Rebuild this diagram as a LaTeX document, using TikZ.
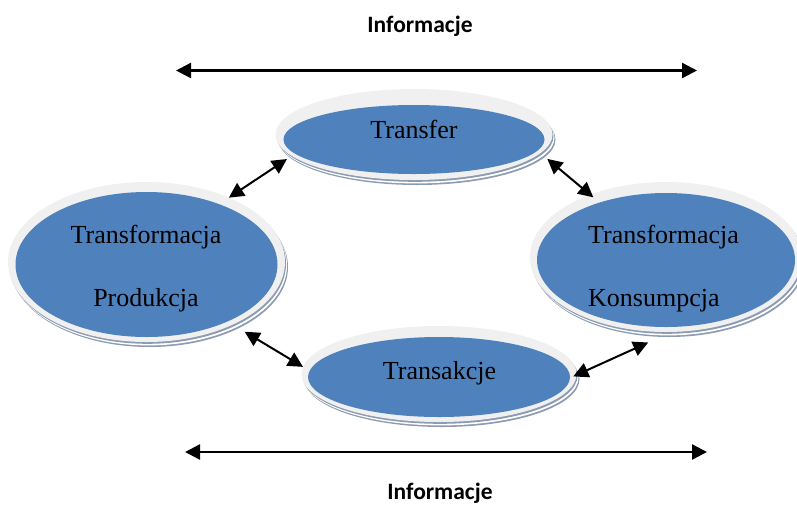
\documentclass[tikz,border=0pt]{standalone}
\usepackage{fontspec}
\setmainfont{Liberation Serif}
\newfontfamily\calfont{Carlito}
\usetikzlibrary{arrows.meta,shapes.geometric}
\definecolor{ellblue}{RGB}{79,129,189}
\definecolor{ringgray}{RGB}{240,240,240}
\definecolor{shadowgray}{RGB}{140,155,178}
\tikzset{
  ellnode/.style n args={5}{ellipse, inner sep=0pt, outer sep=0pt,
    minimum width=#1, minimum height=#2, fill=ringgray,
    preaction={fill=shadowgray, transform canvas={xshift=3pt,yshift=-5pt}},
    preaction={fill=white, transform canvas={xshift=2pt,yshift=-3.4pt}},
    preaction={fill=shadowgray, transform canvas={xshift=1pt,yshift=-1.8pt}},
    path picture={\fill[ellblue] ([yshift=-#5]path picture bounding box.center) ellipse [x radius=#3, y radius=#4];}},
  lbl/.style={font=\fontsize{26}{30}\selectfont, inner sep=0pt, text=black},
  info/.style={font=\calfont\bfseries\fontsize{23.5}{28}\selectfont, inner sep=0pt, anchor=base},
  dbl/.style={line width=2pt, {Triangle[length=15pt,width=15pt]}-{Triangle[length=15pt,width=15pt]}},
  dblh/.style={line width=2.4pt, {Triangle[length=15pt,width=15pt]}-{Triangle[length=15pt,width=15pt]}},
}
\begin{document}
\begin{tikzpicture}[x=1pt,y=-1pt]
\useasboundingbox (0,0) rectangle (797,504);
% ellipses
\node[ellnode={277pt}{91pt}{130.5pt}{34.5pt}{5pt}] (transfer) at (414,134.5) {};
\node[ellnode={277pt}{160pt}{131pt}{72.5pt}{2.5pt}] (prod) at (146.5,262) {};
\node[ellnode={272pt}{150pt}{129pt}{67pt}{3pt}] (konsum) at (666,257) {};
\node[ellnode={275pt}{96pt}{131pt}{40pt}{3pt}] (transak) at (439,374) {};
% texts
\node[lbl, anchor=base] (ttransfer) at (414,138) {Transfer};
\node[lbl, anchor=base] (tprod1) at (146,243) {Transformacja};
\node[lbl, anchor=base] (tprod2) at (146,306) {Produkcja};
\node[lbl, anchor=base west] (tkons1) at (588,243) {Transformacja};
\node[lbl, anchor=base west] (tkons2) at (588,306) {Konsumpcja};
\node[lbl, anchor=base] (ttransak) at (439.5,379) {Transakcje};
\node[info] (infotop) at (420,32) {Informacje};
\node[info] (infobot) at (440,499) {Informacje};
% information arrows
\coordinate (itl) at (176,70.5);
\coordinate (itr) at (697,70.5);
\coordinate (ibl) at (185,452);
\coordinate (ibr) at (707,452);
\draw[dblh] (itl) -- (itr);
\draw[dblh] (ibl) -- (ibr);
% connectors
\draw[dbl] (prod.38) -- ([xshift=-5pt,yshift=-3pt]transfer.190);
\draw[dbl] ([xshift=6pt,yshift=-6.5pt]transfer.352) -- ([xshift=2pt,yshift=-3pt]konsum.140);
\draw[dbl] ([xshift=10pt,yshift=-8pt]prod.325) -- (transak.177);
\draw[dbl] ([xshift=-3pt]transak.359) -- ([xshift=-2pt,yshift=-11pt]konsum.258);
\end{tikzpicture}
\end{document}
